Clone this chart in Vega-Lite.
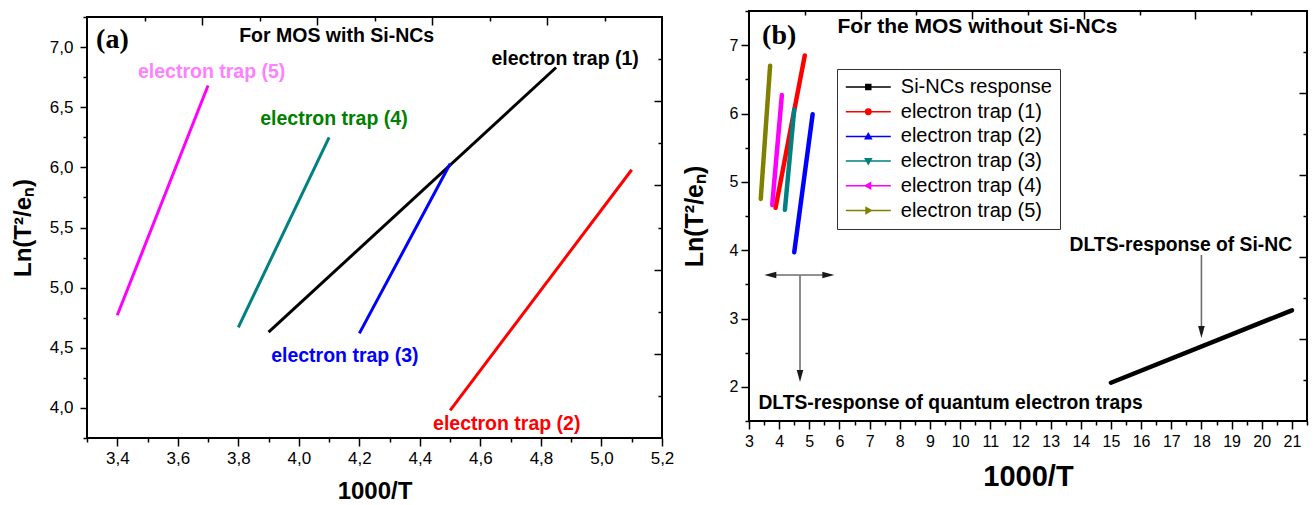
{
  "$schema": "https://vega.github.io/schema/vega-lite/v6.json",
  "padding": {"left": 10, "top": 9, "right": 0, "bottom": 0},
  "background": "white",
  "config": {
    "view": {"stroke": "#000000", "strokeWidth": 2},
    "axis": {"grid": false, "domain": false, "tickColor": "#000000", "tickWidth": 1.5, "labelColor": "#000000", "titleColor": "#000000", "labelFont": "Liberation Sans", "titleFont": "Liberation Sans", "titleFontWeight": "bold", "labelFlush": false, "labelOverlap": false},
    "text": {"font": "Liberation Sans", "fontWeight": "bold"}
  },
  "datasets": {
    "a": [
      {"series": "electron trap (1)", "x": 3.9, "y": 4.63}, {"series": "electron trap (1)", "x": 4.85, "y": 6.83},
      {"series": "electron trap (2)", "x": 4.5, "y": 3.98}, {"series": "electron trap (2)", "x": 5.1, "y": 5.98},
      {"series": "electron trap (3)", "x": 4.2, "y": 4.62}, {"series": "electron trap (3)", "x": 4.5, "y": 6.03},
      {"series": "electron trap (4)", "x": 3.8, "y": 4.67}, {"series": "electron trap (4)", "x": 4.1, "y": 6.25},
      {"series": "electron trap (5)", "x": 3.4, "y": 4.77}, {"series": "electron trap (5)", "x": 3.7, "y": 6.68}
    ],
    "textA": [
      {"label": "For MOS with Si-NCs", "x": 4.125, "y": 7.042},
      {"label": "electron trap (5)", "x": 3.712, "y": 6.739},
      {"label": "electron trap (4)", "x": 4.116, "y": 6.352},
      {"label": "electron trap (1)", "x": 4.88, "y": 6.853},
      {"label": "electron trap (3)", "x": 4.152, "y": 4.382},
      {"label": "electron trap (2)", "x": 4.687, "y": 3.817}
    ],
    "tagA": [{"label": "(a)", "x": 3.384, "y": 6.99}],
    "b": [
      {"series": "Si-NCs response", "x": 15, "y": 2.06}, {"series": "Si-NCs response", "x": 21, "y": 3.12},
      {"series": "electron trap (1)", "x": 3.88, "y": 4.62}, {"series": "electron trap (1)", "x": 4.85, "y": 6.85},
      {"series": "electron trap (2)", "x": 4.5, "y": 3.97}, {"series": "electron trap (2)", "x": 5.11, "y": 5.99},
      {"series": "electron trap (3)", "x": 4.19, "y": 4.59}, {"series": "electron trap (3)", "x": 4.5, "y": 6.06},
      {"series": "electron trap (4)", "x": 3.77, "y": 4.66}, {"series": "electron trap (4)", "x": 4.09, "y": 6.27},
      {"series": "electron trap (5)", "x": 3.39, "y": 4.75}, {"series": "electron trap (5)", "x": 3.7, "y": 6.7}
    ],
    "textB": [
      {"label": "DLTS-response of Si-NC", "x": 17.317, "y": 3.988},
      {"label": "DLTS-response of quantum electron traps", "x": 9.681, "y": 1.671}
    ],
    "titleB": [{"label": "For the MOS without Si-NCs", "x": 10.576, "y": 7.182}],
    "tagB": [{"label": "(b)", "x": 4.0, "y": 7.017}],
    "arrowsB": [
      {"x": 18, "y": 3.93, "x2": 18, "y2": 2.85},
      {"x": 3.7, "y": 3.636, "x2": 5.63, "y2": 3.636},
      {"x": 4.691, "y": 3.636, "x2": 4.691, "y2": 2.2}
    ],
    "headsB": [
      {"x": 18, "y": 2.802, "dir": "down"},
      {"x": 3.706, "y": 3.636, "dir": "left"},
      {"x": 5.629, "y": 3.636, "dir": "right"},
      {"x": 4.691, "y": 2.158, "dir": "down"}
    ]
  },
  "spacing": 6,
  "hconcat": [
    {
      "spacing": 3,
      "vconcat": [
        {"width": 1, "height": 1, "data": {"values": []}, "mark": {"type": "point", "opacity": 0}, "encoding": {}, "view": {"stroke": null}},
        {
          "width": 575,
          "height": 421,
          "layer": [
            {
              "data": {"values": [{}]},
              "mark": {"type": "point", "opacity": 0},
              "encoding": {
                "x": {"datum": 3.3, "type": "quantitative", "scale": {"domain": [3.3, 5.2], "nice": false, "zero": false},
                  "axis": {"orient": "bottom", "values": [3.3, 3.5, 3.7, 3.9, 4.1, 4.3, 4.5, 4.7, 4.9, 5.1], "labels": false, "title": null, "tickSize": 4}},
                "y": {"datum": 3.75, "type": "quantitative", "scale": {"domain": [3.75, 7.25], "nice": false, "zero": false},
                  "axis": {"orient": "left", "values": [3.75, 4.25, 4.75, 5.25, 5.75, 6.25, 6.75, 7.25], "labels": false, "title": null, "tickSize": 4}}
              }
            },
            {
              "layer": [
                {
                  "data": {"name": "a"},
                  "mark": {"type": "line", "strokeWidth": 3},
                  "encoding": {
                    "x": {"field": "x", "type": "quantitative", "title": "1000/T",
                      "scale": {"domain": [3.3, 5.2], "nice": false, "zero": false},
                      "axis": {"orient": "bottom", "labelOverlap": false, "labelFlush": false,
                        "values": [3.4, 3.6, 3.8, 4.0, 4.2, 4.4, 4.6, 4.8, 5.0, 5.2],
                        "labelExpr": "replace(format(datum.value, '.1f'), '.', ',')",
                        "tickSize": 8, "labelFontSize": 17, "labelPadding": 4, "titleFontSize": 24, "titlePadding": 13}},
                    "y": {"field": "y", "type": "quantitative", "title": "Ln(T²/eₙ)",
                      "scale": {"domain": [3.75, 7.25], "nice": false, "zero": false},
                      "axis": {"orient": "left", "labelOverlap": false, "labelFlush": false,
                        "values": [4.0, 4.5, 5.0, 5.5, 6.0, 6.5, 7.0],
                        "labelExpr": "replace(format(datum.value, '.1f'), '.', ',')",
                        "tickSize": 7, "labelFontSize": 17, "labelPadding": 7, "titleFontSize": 24, "titlePadding": 14}},
                    "color": {"field": "series", "type": "nominal", "legend": null,
                      "scale": {"domain": ["electron trap (1)", "electron trap (2)", "electron trap (3)", "electron trap (4)", "electron trap (5)"],
                                "range": ["#000000", "#FF0000", "#0000FF", "#008080", "#FF00FF"]}}
                  }
                },
                {
                  "data": {"name": "textA"},
                  "mark": {"type": "text", "fontSize": 19.5, "align": "center", "baseline": "alphabetic"},
                  "encoding": {
                    "x": {"field": "x", "type": "quantitative", "title": "1000/T", "scale": {"domain": [3.3, 5.2], "nice": false, "zero": false}},
                    "y": {"field": "y", "type": "quantitative", "title": "Ln(T²/eₙ)", "scale": {"domain": [3.75, 7.25], "nice": false, "zero": false}},
                    "text": {"field": "label"},
                    "color": {"field": "label", "type": "nominal", "legend": null,
                      "scale": {"domain": ["For MOS with Si-NCs", "electron trap (5)", "electron trap (4)", "electron trap (1)", "electron trap (3)", "electron trap (2)"],
                                "range": ["#000000", "#FF80FF", "#008000", "#000000", "#0000FF", "#FF0000"]}}
                  }
                },
                {
                  "data": {"name": "tagA"},
                  "mark": {"type": "text", "font": "Liberation Serif", "fontWeight": "bold", "fontSize": 28, "align": "center", "baseline": "alphabetic", "color": "#000000"},
                  "encoding": {
                    "x": {"field": "x", "type": "quantitative", "title": "1000/T", "scale": {"domain": [3.3, 5.2], "nice": false, "zero": false}},
                    "y": {"field": "y", "type": "quantitative", "title": "Ln(T²/eₙ)", "scale": {"domain": [3.75, 7.25], "nice": false, "zero": false}},
                    "text": {"field": "label"}
                  }
                }
              ],
              "resolve": {"scale": {"color": "independent"}}
            },
            {
              "data": {"values": [{}]},
              "mark": {"type": "point", "opacity": 0},
              "encoding": {
                "x": {"datum": 0, "type": "quantitative", "scale": {"domain": [0, 10], "nice": false, "zero": false},
                  "axis": {"orient": "top", "values": [1, 2, 3, 4, 5, 6, 7, 8, 9], "labels": false, "title": null,
                    "tickSize": {"condition": {"test": "datum.value % 2 === 0", "value": -8}, "value": -4}}},
                "y": {"datum": 0, "type": "quantitative", "scale": {"domain": [0, 10], "nice": false, "zero": false},
                  "axis": {"orient": "right", "values": [1, 2, 3, 4, 5, 6, 7, 8, 9], "labels": false, "title": null,
                    "tickSize": {"condition": {"test": "datum.value % 2 === 0", "value": -8}, "value": -4}}}
              }
            }
          ],
          "resolve": {"scale": {"x": "independent", "y": "independent"}}
        }
      ]
    },
    {
      "width": 558,
      "height": 410,
      "layer": [
        {
          "data": {"values": [{}]},
          "mark": {"type": "point", "opacity": 0},
          "encoding": {
            "x": {"datum": 3, "type": "quantitative", "scale": {"domain": [3, 21.5], "nice": false, "zero": false},
              "axis": {"orient": "bottom", "values": [3.5, 4.5, 5.5, 6.5, 7.5, 8.5, 9.5, 10.5, 11.5, 12.5, 13.5, 14.5, 15.5, 16.5, 17.5, 18.5, 19.5, 20.5, 21.5], "labels": false, "title": null, "tickSize": 4}},
            "y": {"datum": 1.5, "type": "quantitative", "scale": {"domain": [1.5, 7.5], "nice": false, "zero": false},
              "axis": {"orient": "left", "values": [1.5, 2.5, 3.5, 4.5, 5.5, 6.5, 7.5], "labels": false, "title": null, "tickSize": 4}}
          }
        },
        {
          "data": {"values": [{}]},
          "mark": {"type": "point", "opacity": 0},
          "encoding": {
            "x": {"datum": 3, "type": "quantitative", "scale": {"domain": [3, 21.5], "nice": false, "zero": false},
              "axis": {"orient": "bottom", "values": [4, 6, 8, 10, 12, 14, 16, 18, 20], "format": "d", "labelOverlap": false, "labelFlush": false,
                "labelFontSize": 16, "labelPadding": 4, "tickSize": 8, "title": null}}
          }
        },
        {
          "layer": [
            {
              "data": {"name": "b"},
              "mark": {"type": "line", "strokeWidth": 4.5, "strokeCap": "round"},
              "encoding": {
                "x": {"field": "x", "type": "quantitative", "title": "1000/T",
                  "scale": {"domain": [3, 21.5], "nice": false, "zero": false},
                  "axis": {"orient": "bottom", "labelOverlap": false, "labelFlush": false,
                    "values": [3, 5, 7, 9, 11, 13, 15, 17, 19, 21],
                    "format": "d",
                    "tickSize": 8, "labelFontSize": 16, "labelPadding": 4, "titleFontSize": 29, "titlePadding": 13}},
                "y": {"field": "y", "type": "quantitative", "title": "Ln(T²/eₙ)",
                  "scale": {"domain": [1.5, 7.5], "nice": false, "zero": false},
                  "axis": {"orient": "left", "labelOverlap": false, "labelFlush": false,
                    "values": [2, 3, 4, 5, 6, 7],
                    "format": "d",
                    "tickSize": 8, "labelFontSize": 16, "labelPadding": 3, "titleFontSize": 25, "titlePadding": 22}},
                "color": {"field": "series", "type": "nominal",
                  "scale": {"domain": ["Si-NCs response", "electron trap (1)", "electron trap (2)", "electron trap (3)", "electron trap (4)", "electron trap (5)"],
                            "range": ["#000000", "#FF0000", "#0000FF", "#008080", "#FF00FF", "#808000"]},
                  "legend": {
                    "orient": "none", "legendX": 750, "legendY": 58, "title": null,
                    "symbolType": "stroke", "symbolSize": 225, "symbolStrokeWidth": 1.5, "symbolOffset": 13.3,
                    "labelFont": "Liberation Sans", "labelFontSize": 20, "labelColor": "#000000",
                    "labelOffset": 22.5, "rowPadding": 4.7, "padding": 8,
                    "strokeColor": "#333333", "fillColor": "#ffffff",
                    "encode": {
                      "symbols": {"update": {
                        "shape": {"signal": "['M-3,0L3,0M-0.33,-0.33L0.33,-0.33L0.33,0.33L-0.33,0.33Z','M-3,0L3,0M-0.36,0A0.36,0.36,0,1,1,0.36,0A0.36,0.36,0,1,1,-0.36,0Z','M-3,0L3,0M-0.4,0.3L0.4,0.3L0,-0.4Z','M-3,0L3,0M-0.4,-0.3L0.4,-0.3L0,0.4Z','M-3,0L3,0M0.3,-0.4L0.3,0.4L-0.4,0Z','M-3,0L3,0M-0.3,-0.4L-0.3,0.4L0.4,0Z'][indexof(['Si-NCs response','electron trap (1)','electron trap (2)','electron trap (3)','electron trap (4)','electron trap (5)'], datum.value)]"},
                        "fill": {"signal": "['#000000','#FF0000','#0000FF','#008080','#FF00FF','#808000'][indexof(['Si-NCs response','electron trap (1)','electron trap (2)','electron trap (3)','electron trap (4)','electron trap (5)'], datum.value)]"}
                      }}
                    }
                  }}
              }
            },
            {
              "data": {"name": "arrowsB"},
              "mark": {"type": "rule", "color": "#6e6e6e", "strokeWidth": 1.6},
              "encoding": {
                "x": {"field": "x", "type": "quantitative", "title": "1000/T", "scale": {"domain": [3, 21.5], "nice": false, "zero": false}},
                "y": {"field": "y", "type": "quantitative", "title": "Ln(T²/eₙ)", "scale": {"domain": [1.5, 7.5], "nice": false, "zero": false}},
                "x2": {"field": "x2"},
                "y2": {"field": "y2"}
              }
            },
            {
              "data": {"name": "headsB"},
              "mark": {"type": "point", "filled": true, "size": 144, "color": "#1a1a1a", "opacity": 1},
              "encoding": {
                "x": {"field": "x", "type": "quantitative", "title": "1000/T", "scale": {"domain": [3, 21.5], "nice": false, "zero": false}},
                "y": {"field": "y", "type": "quantitative", "title": "Ln(T²/eₙ)", "scale": {"domain": [1.5, 7.5], "nice": false, "zero": false}},
                "shape": {"field": "dir", "type": "nominal", "legend": null,
                  "scale": {"domain": ["down", "left", "right"], "range": ["M-0.55,-1L0.55,-1L0,1Z", "M1,-0.55L1,0.55L-1,0Z", "M-1,-0.55L-1,0.55L1,0Z"]}}
              }
            },
            {
              "data": {"name": "textB"},
              "mark": {"type": "text", "fontSize": 19.3, "align": "center", "baseline": "alphabetic", "color": "#000000"},
              "encoding": {
                "x": {"field": "x", "type": "quantitative", "title": "1000/T", "scale": {"domain": [3, 21.5], "nice": false, "zero": false}},
                "y": {"field": "y", "type": "quantitative", "title": "Ln(T²/eₙ)", "scale": {"domain": [1.5, 7.5], "nice": false, "zero": false}},
                "text": {"field": "label"}
              }
            },
            {
              "data": {"name": "titleB"},
              "mark": {"type": "text", "fontSize": 21, "align": "center", "baseline": "alphabetic", "color": "#000000"},
              "encoding": {
                "x": {"field": "x", "type": "quantitative", "title": "1000/T", "scale": {"domain": [3, 21.5], "nice": false, "zero": false}},
                "y": {"field": "y", "type": "quantitative", "title": "Ln(T²/eₙ)", "scale": {"domain": [1.5, 7.5], "nice": false, "zero": false}},
                "text": {"field": "label"}
              }
            },
            {
              "data": {"name": "tagB"},
              "mark": {"type": "text", "font": "Liberation Serif", "fontWeight": "bold", "fontSize": 28, "align": "center", "baseline": "alphabetic", "color": "#000000"},
              "encoding": {
                "x": {"field": "x", "type": "quantitative", "title": "1000/T", "scale": {"domain": [3, 21.5], "nice": false, "zero": false}},
                "y": {"field": "y", "type": "quantitative", "title": "Ln(T²/eₙ)", "scale": {"domain": [1.5, 7.5], "nice": false, "zero": false}},
                "text": {"field": "label"}
              }
            }
          ]
        },
        {
          "data": {"values": [{}]},
          "mark": {"type": "point", "opacity": 0},
          "encoding": {
            "x": {"datum": 0, "type": "quantitative", "scale": {"domain": [0, 10], "nice": false, "zero": false},
              "axis": {"orient": "top", "values": [1, 2, 3, 4, 5, 6, 7, 8, 9], "labels": false, "title": null,
                "tickSize": {"condition": {"test": "datum.value % 2 === 0", "value": -8}, "value": -4}}},
            "y": {"datum": 0, "type": "quantitative", "scale": {"domain": [0, 10], "nice": false, "zero": false},
              "axis": {"orient": "right", "values": [1, 2, 3, 4, 5, 6, 7, 8, 9], "labels": false, "title": null,
                "tickSize": {"condition": {"test": "datum.value % 2 === 0", "value": -8}, "value": -4}}}
          }
        }
      ],
      "resolve": {"scale": {"x": "independent", "y": "independent"}}
    }
  ]
}
